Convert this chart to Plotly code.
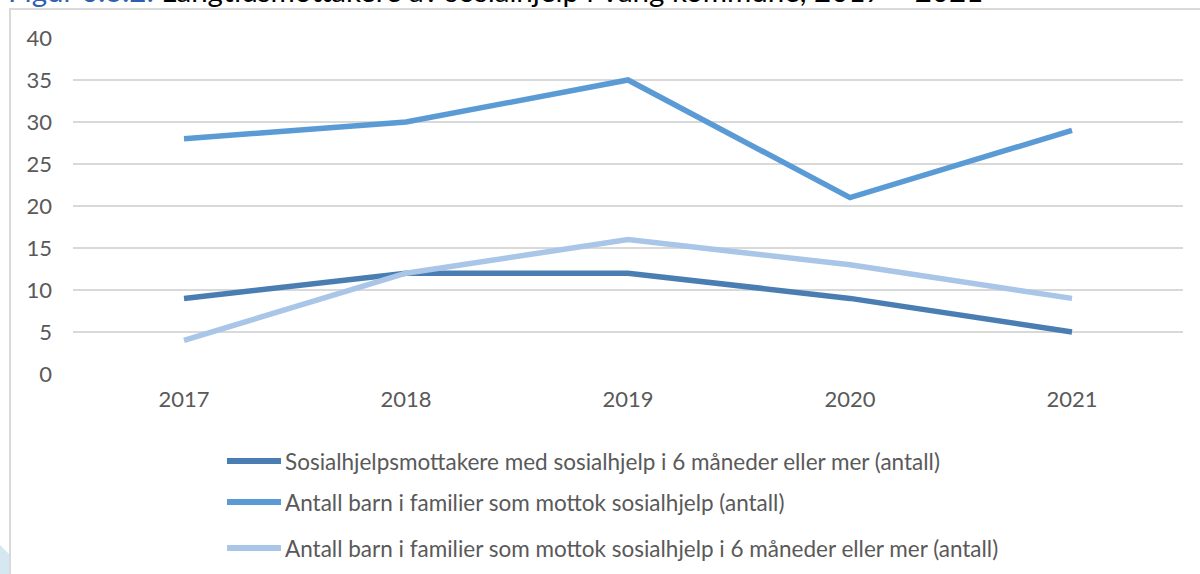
import plotly.graph_objects as go

years = ["2017", "2018", "2019", "2020", "2021"]
series_names = [
    "Sosialhjelpsmottakere med sosialhjelp i 6 måneder eller mer (antall)",
    "Antall barn i familier som mottok sosialhjelp (antall)",
    "Antall barn i familier som mottok sosialhjelp i 6 måneder eller mer (antall)",
]
mottakere_6mnd = [9, 12, 12, 9, 5]
barn_totalt = [28, 30, 35, 21, 29]
barn_6mnd = [4, 12, 16, 13, 9]
colors = ["#4A7EB2", "#5B9BD5", "#A9C5E7"]
y_ticks = [0, 5, 10, 15, 20, 25, 30, 35, 40]

W, H = 1200, 574
L, R, T, B = 73, 17, 38, 200
pw, ph = W - L - R, H - T - B

def px(x):  # page pixel -> paper
    return (x - L) / pw

def py(y):  # page pixel -> paper
    return (H - B - y) / ph

FONT = "Lato"
GREY = "#595959"

fig = go.Figure()
for name, vals, c in zip(series_names, [mottakere_6mnd, barn_totalt, barn_6mnd], colors):
    fig.add_trace(go.Scatter(x=years, y=vals, name=name, mode="lines",
                             line=dict(color=c, width=5.5), showlegend=False))

shapes = []
annotations = []
# chart frame
shapes.append(dict(type="rect", xref="paper", yref="paper",
                   x0=px(10), x1=px(1240), y0=py(9), y1=py(620),
                   line=dict(color="#D9D9D9", width=2), fillcolor="rgba(0,0,0,0)", layer="below"))
# decorative corner
shapes.append(dict(type="path", xref="paper", yref="paper",
                   path=f"M {px(-2)},{py(543)} L {px(9)},{py(554)} L {px(9)},{py(590)} L {px(-2)},{py(590)} Z",
                   fillcolor="#D3E8F1", line=dict(width=0), layer="below"))

# manual legend
leg_y = [461, 502, 548]
for name, c, yy in zip(series_names, colors, leg_y):
    shapes.append(dict(type="line", xref="paper", yref="paper",
                       x0=px(227), x1=px(281), y0=py(yy), y1=py(yy),
                       line=dict(color=c, width=6)))
    annotations.append(dict(xref="paper", yref="paper", x=px(283), y=py(yy),
                            xanchor="left", yanchor="middle", showarrow=False,
                            text=name, font=dict(family=FONT, size=22.5, color=GREY)))

# title, clipped at the top edge as in the source
annotations.append(dict(xref="paper", yref="paper", x=px(6), y=py(10),
                        xanchor="left", yanchor="bottom", showarrow=False,
                        text="<span style='color:#2F5FAF'>Figur 6.3.2:</span> Langtidsmottakere av sosialhjelp i Vang kommune, 2017 – 2021",
                        font=dict(family=FONT, size=29.5, color="#000000")))

fig.update_layout(
    width=W, height=H,
    margin=dict(l=L, r=R, t=T, b=B, pad=0),
    paper_bgcolor="white", plot_bgcolor="white",
    shapes=shapes, annotations=annotations,
    xaxis=dict(type="category", range=[-0.5, 4.5], showgrid=False, showline=False,
               ticks="", tickfont=dict(family=FONT, size=22, color=GREY), ticklabelstandoff=10),
    yaxis=dict(range=[0, 40], tickvals=y_ticks, showgrid=True, gridcolor="#D9D9D9", gridwidth=1.5,
               zeroline=False, showline=False, ticks="",
               tickfont=dict(family=FONT, size=22, color=GREY), ticklabelstandoff=20),
    showlegend=False,
)

fig.write_html("out.html", config={"displayModeBar": False},
               post_script="document.body.style.margin='0';")
